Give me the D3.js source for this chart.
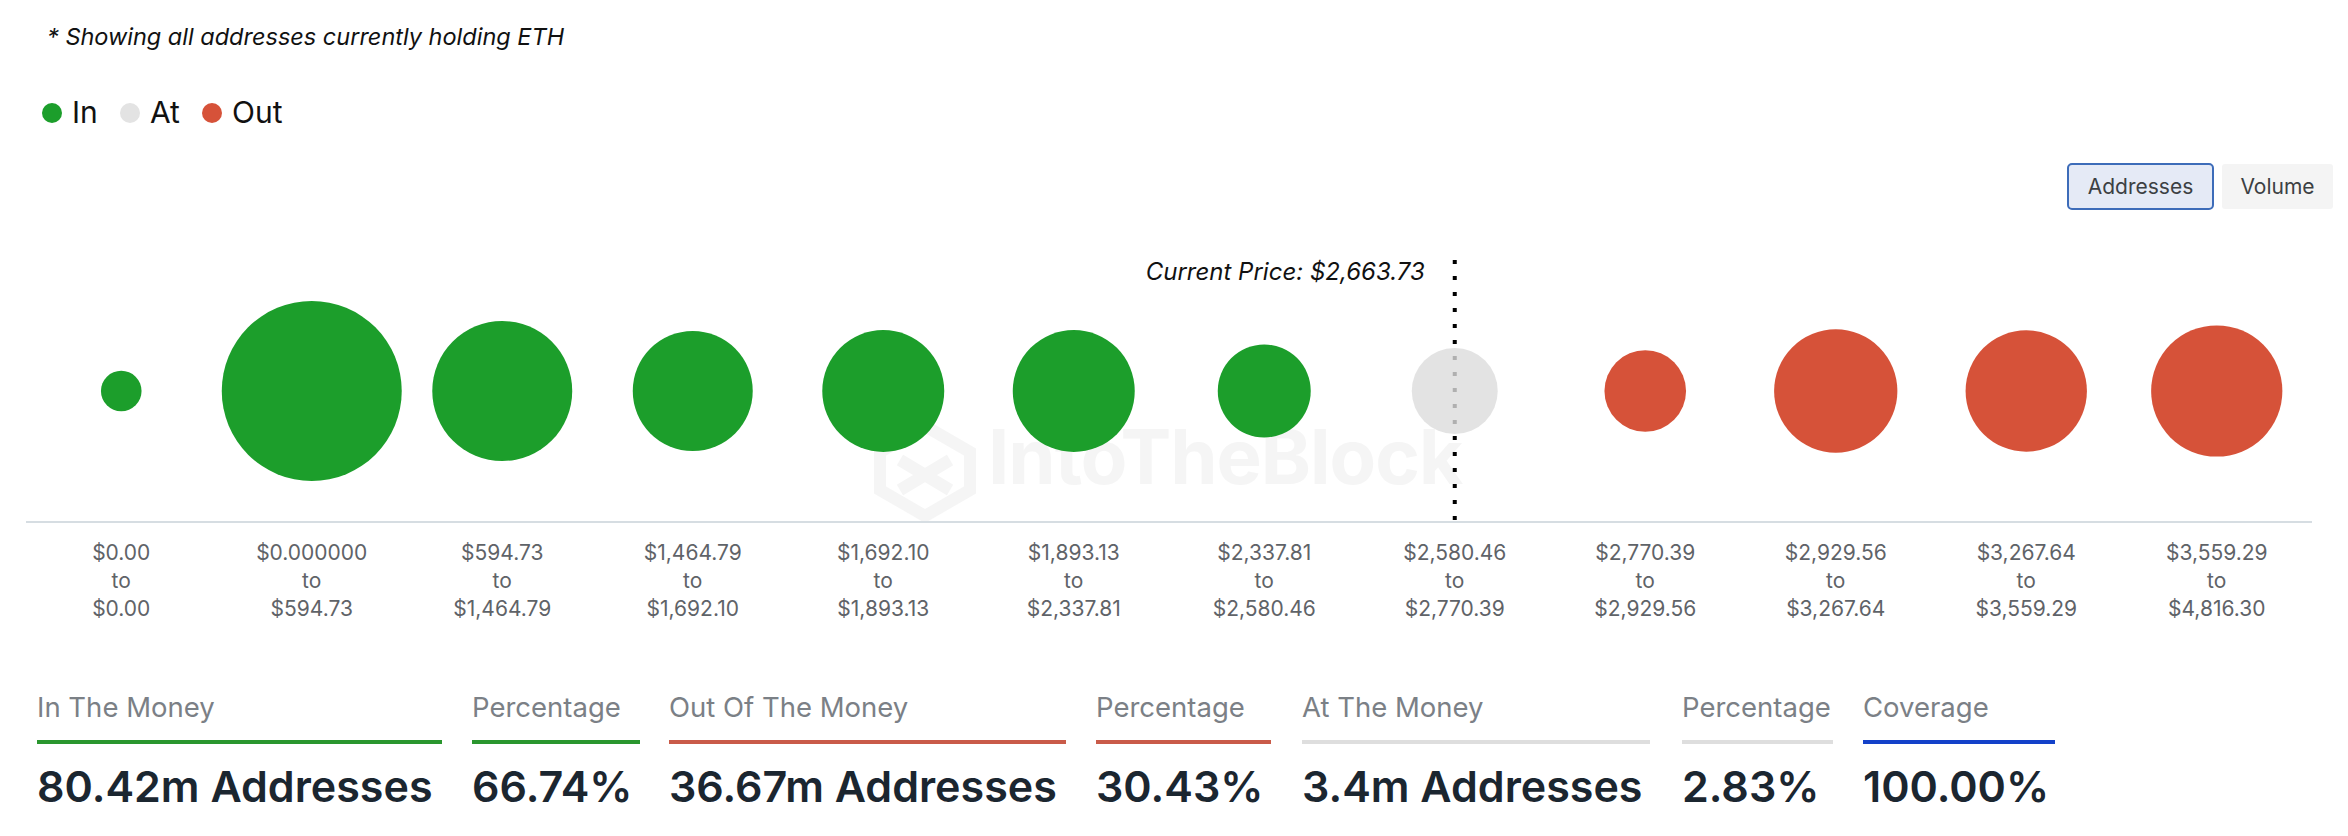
<!DOCTYPE html>
<html>
<head>
<meta charset="utf-8">
<script src="https://cdn.jsdelivr.net/npm/d3@7"></script>
<style>
  html, body { margin: 0; padding: 0; background: #ffffff; }
  svg { display: block; font-family: Inter, "Noto Sans", sans-serif; }
</style>
</head>
<body>
<svg id="chart" width="2348" height="836"></svg>
<script>
// ---------- data ----------
const bucketFrom = ["$0.00", "$0.000000", "$594.73", "$1,464.79", "$1,692.10", "$1,893.13",
                    "$2,337.81", "$2,580.46", "$2,770.39", "$2,929.56", "$3,267.64", "$3,559.29"];
const bucketTo   = ["$0.00", "$594.73", "$1,464.79", "$1,692.10", "$1,893.13", "$2,337.81",
                    "$2,580.46", "$2,770.39", "$2,929.56", "$3,267.64", "$3,559.29", "$4,816.30"];
// addresses per bucket, millions
const addresses  = [0.01, 29.80, 15.36, 9.93, 10.42, 10.43, 4.47, 3.40, 2.81, 10.75, 10.26, 12.85];
const status     = ["In", "In", "In", "In", "In", "In", "In", "At", "Out", "Out", "Out", "Out"];

const legendKeys = ["In", "At", "Out"];
const currentPriceLabel = "Current Price: $2,663.73";
const currentBucket = 7;

const summaryLabels = ["In The Money", "Percentage", "Out Of The Money", "Percentage",
                       "At The Money", "Percentage", "Coverage"];
const summaryValues = ["80.42m Addresses", "66.74%", "36.67m Addresses", "30.43%",
                       "3.4m Addresses", "2.83%", "100.00%"];
const summaryKeys   = ["In", "In", "Out", "Out", "At", "At", "Cov"];
const summaryStart  = [37, 472, 669, 1096, 1302, 1682, 1863];
const summaryEnd    = [442, 640, 1066, 1271, 1650, 1833, 2055];

// ---------- styles ----------
const bubbleColor = { In: "#1c9e2b", At: "#e3e3e3", Out: "#d65239" };
const bubbleFill  = { In: "#1c9e2b", At: "#dcdcdc", Out: "#d65239" };
const bubbleAlpha = { In: 1, At: 0.8, Out: 1 };
const barColor    = { In: "#2a962e", At: "#dedede", Out: "#c95b49", Cov: "#1341c9" };

const svg = d3.select("#chart");

// watermark
const wm = svg.append("g").attr("opacity", 0.5);
wm.append("text")
  .attr("x", 988).attr("y", 484)
  .attr("font-size", 76).attr("font-weight", 700)
  .attr("fill", "#ececec")
  .attr("letter-spacing", -1)
  .text("IntoTheBlock");
wm.append("path")
  .attr("d", "M880,452 L925,426 L970,452 L970,490 L925,516 L880,490 Z M900,460 L950,490 M950,460 L900,490")
  .attr("fill", "none").attr("stroke", "#ececec").attr("stroke-width", 12);

// footnote
svg.append("text")
  .attr("x", 47).attr("y", 45)
  .attr("font-size", 23.5).attr("font-style", "italic")
  .attr("fill", "#111")
  .text("* Showing all addresses currently holding ETH");

// legend
const legendX = { In: 52, At: 130, Out: 212 };
const lg = svg.append("g");
legendKeys.forEach(k => {
  lg.append("circle").attr("cx", legendX[k]).attr("cy", 113).attr("r", 10).attr("fill", bubbleColor[k]);
  lg.append("text").attr("x", legendX[k] + 20).attr("y", 123)
    .attr("font-size", 30).attr("fill", "#111").text(k);
});

// buttons
svg.append("rect").attr("x", 2068).attr("y", 164).attr("width", 145).attr("height", 45)
  .attr("rx", 4).attr("fill", "#e5eaf6").attr("stroke", "#3d6cb9").attr("stroke-width", 2);
svg.append("text").attr("x", 2140.5).attr("y", 194).attr("text-anchor", "middle")
  .attr("font-size", 21).attr("fill", "#3c4043").text("Addresses");
svg.append("rect").attr("x", 2222).attr("y", 164).attr("width", 111).attr("height", 45)
  .attr("rx", 3).attr("fill", "#f4f4f4");
svg.append("text").attr("x", 2277.5).attr("y", 194).attr("text-anchor", "middle")
  .attr("font-size", 21).attr("fill", "#3c4043").text("Volume");

// scales
const x = d3.scaleBand().domain(d3.range(bucketFrom.length)).range([26, 2312]).padding(0);
const r = d3.scaleSqrt().domain([0, d3.max(addresses)]).range([19, 90]);
const cy = 391;
const cx = i => x(i) + x.bandwidth() / 2;

// axis line
svg.append("line").attr("x1", 26).attr("x2", 2312).attr("y1", 522).attr("y2", 522)
  .attr("stroke", "#d6dde2").attr("stroke-width", 2);

// current price line (behind bubbles)
svg.append("line")
  .attr("x1", cx(currentBucket)).attr("x2", cx(currentBucket))
  .attr("y1", 260).attr("y2", 522)
  .attr("stroke", "#000").attr("stroke-width", 4).attr("stroke-dasharray", "4 12");

// bubbles
svg.append("g").selectAll("circle")
  .data(addresses)
  .join("circle")
  .attr("cx", (d, i) => cx(i))
  .attr("cy", cy)
  .attr("r", d => r(d))
  .attr("fill", (d, i) => bubbleFill[status[i]])
  .attr("fill-opacity", (d, i) => bubbleAlpha[status[i]]);

svg.append("text")
  .attr("x", cx(currentBucket) - 30).attr("y", 280)
  .attr("text-anchor", "end").attr("font-size", 24).attr("font-style", "italic")
  .attr("fill", "#111").text(currentPriceLabel);

// x labels
const lab = svg.append("g").selectAll("text")
  .data(bucketFrom)
  .join("text")
  .attr("x", (d, i) => cx(i))
  .attr("text-anchor", "middle")
  .attr("font-size", 21)
  .attr("fill", "#5f6368");
lab.append("tspan").attr("x", (d, i) => cx(i)).attr("y", 560).text(d => d);
lab.append("tspan").attr("x", (d, i) => cx(i)).attr("y", 588).text("to");
lab.append("tspan").attr("x", (d, i) => cx(i)).attr("y", 616).text((d, i) => bucketTo[i]);

// summary
const sg = svg.append("g").selectAll("g")
  .data(summaryLabels)
  .join("g");
sg.append("text")
  .attr("x", (d, i) => summaryStart[i]).attr("y", 717)
  .attr("font-size", 27.5).attr("fill", "#7b8086")
  .text(d => d);
sg.append("rect")
  .attr("x", (d, i) => summaryStart[i]).attr("y", 740)
  .attr("width", (d, i) => summaryEnd[i] - summaryStart[i]).attr("height", 4)
  .attr("fill", (d, i) => barColor[summaryKeys[i]]);
sg.append("text")
  .attr("x", (d, i) => summaryStart[i]).attr("y", 802)
  .attr("font-size", 43).attr("font-weight", 600).attr("fill", "#1b2630")
  .text((d, i) => summaryValues[i]);
</script>
</body>
</html>
